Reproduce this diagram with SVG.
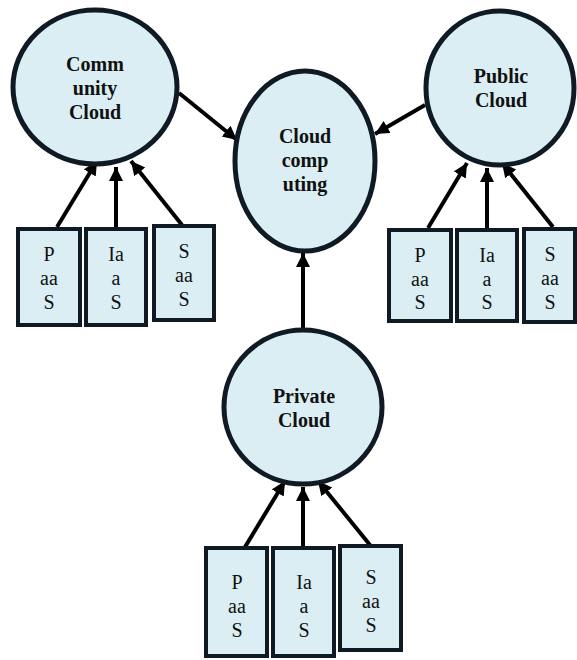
<svg xmlns="http://www.w3.org/2000/svg" width="577" height="660" viewBox="0 0 577 660">
  <style>
    .cloud { fill: #DAEEF3; stroke: #0F1A24; stroke-width: 5; }
    .svc { fill: #DAEEF3; stroke: #0F1A24; stroke-width: 4; }
    text { font-family: "Liberation Serif", "Times New Roman", serif; font-size: 20px; fill: #111; text-anchor: middle; }
    .title { font-weight: bold; }
    .link { stroke: #000; stroke-width: 4; fill: none; marker-end: url(#head); }
  </style>
  <defs>
    <marker id="head" markerUnits="userSpaceOnUse" markerWidth="16" markerHeight="16" refX="14" refY="7" orient="auto">
      <path d="M0,0 L14,7 L0,14 Z" fill="#000"/>
    </marker>
  </defs>
  <rect width="577" height="660" fill="#fff"/>

  <!-- connectors: clouds into the centre, services into their cloud -->
  <g id="connectors">
    <line class="link" x1="179" y1="93" x2="237" y2="140"/>
    <line class="link" x1="425" y1="105" x2="375" y2="134"/>
    <line class="link" x1="303" y1="328" x2="303" y2="253"/>
    <line class="link" x1="57" y1="227" x2="97" y2="161"/>
    <line class="link" x1="116" y1="227" x2="116" y2="167"/>
    <line class="link" x1="182" y1="225" x2="131" y2="161"/>
    <line class="link" x1="428" y1="228" x2="467" y2="163"/>
    <line class="link" x1="487" y1="228" x2="487" y2="168"/>
    <line class="link" x1="553" y1="227" x2="502" y2="163"/>
    <line class="link" x1="245" y1="547" x2="285" y2="481"/>
    <line class="link" x1="303" y1="547" x2="303" y2="487"/>
    <line class="link" x1="370" y1="545" x2="318" y2="481"/>
  </g>

  <!-- cloud nodes -->
  <g id="community-cloud">
    <ellipse class="cloud" cx="95" cy="87" rx="82" ry="77"/>
    <text class="title" x="95" y="71">Comm</text>
    <text class="title" x="95" y="95">unity</text>
    <text class="title" x="95" y="119">Cloud</text>
  </g>
  <g id="cloud-computing">
    <ellipse class="cloud" cx="305" cy="161" rx="70" ry="90"/>
    <text class="title" x="305" y="143">Cloud</text>
    <text class="title" x="305" y="167">comp</text>
    <text class="title" x="305" y="191">uting</text>
  </g>
  <g id="public-cloud">
    <ellipse class="cloud" cx="500" cy="88" rx="74" ry="77"/>
    <text class="title" x="501" y="83">Public</text>
    <text class="title" x="501" y="107">Cloud</text>
  </g>
  <g id="private-cloud">
    <ellipse class="cloud" cx="303" cy="407" rx="79" ry="77"/>
    <text class="title" x="304" y="403">Private</text>
    <text class="title" x="304" y="427">Cloud</text>
  </g>

  <!-- community services -->
  <g id="community-paas">
    <rect class="svc" x="18" y="229" width="62" height="96"/>
    <text x="49" y="261">P</text>
    <text x="49" y="285">aa</text>
    <text x="49" y="309">S</text>
  </g>
  <g id="community-iaas">
    <rect class="svc" x="86" y="229" width="60" height="96"/>
    <text x="116" y="261">Ia</text>
    <text x="116" y="285">a</text>
    <text x="116" y="309">S</text>
  </g>
  <g id="community-saas">
    <rect class="svc" x="154" y="226" width="60" height="94"/>
    <text x="184" y="258">S</text>
    <text x="184" y="282">aa</text>
    <text x="184" y="306">S</text>
  </g>

  <!-- public services -->
  <g id="public-paas">
    <rect class="svc" x="389" y="230" width="62" height="91"/>
    <text x="420" y="262">P</text>
    <text x="420" y="286">aa</text>
    <text x="420" y="309">S</text>
  </g>
  <g id="public-iaas">
    <rect class="svc" x="457" y="230" width="60" height="91"/>
    <text x="487" y="262">Ia</text>
    <text x="487" y="286">a</text>
    <text x="487" y="309">S</text>
  </g>
  <g id="public-saas">
    <rect class="svc" x="524" y="229" width="51" height="93"/>
    <text x="550" y="261">S</text>
    <text x="550" y="285">aa</text>
    <text x="550" y="309">S</text>
  </g>

  <!-- private services -->
  <g id="private-paas">
    <rect class="svc" x="206" y="548" width="61" height="108"/>
    <text x="237" y="589">P</text>
    <text x="237" y="613">aa</text>
    <text x="237" y="637">S</text>
  </g>
  <g id="private-iaas">
    <rect class="svc" x="273" y="548" width="61" height="108"/>
    <text x="304" y="589">Ia</text>
    <text x="304" y="613">a</text>
    <text x="304" y="637">S</text>
  </g>
  <g id="private-saas">
    <rect class="svc" x="340" y="546" width="61" height="104"/>
    <text x="371" y="584">S</text>
    <text x="371" y="608">aa</text>
    <text x="371" y="632">S</text>
  </g>
</svg>
